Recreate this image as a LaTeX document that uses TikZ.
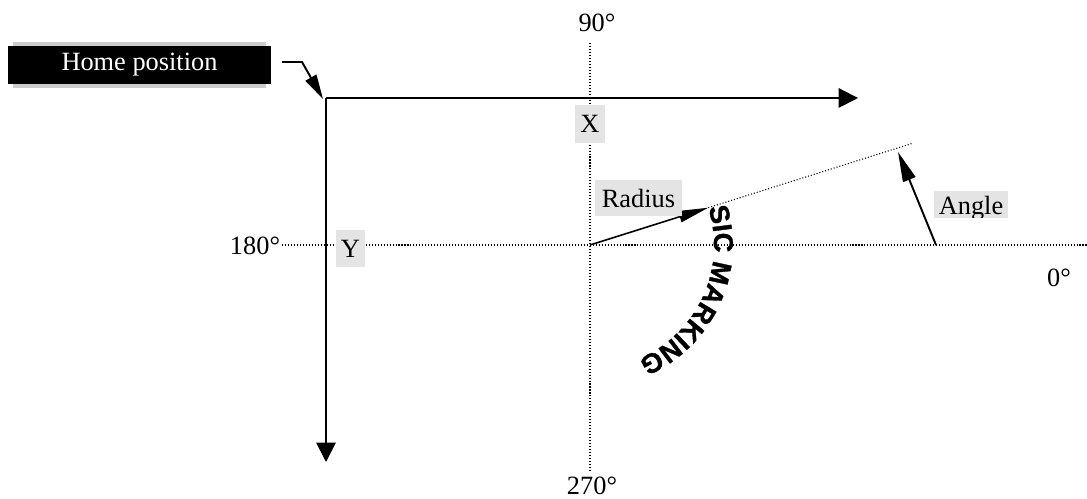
\documentclass[tikz,border=0pt]{standalone}
\usepackage{fontspec}
\setmainfont{Liberation Serif}
\newfontfamily\sicfont[BoldFeatures={FakeBold=1.2}]{Liberation Sans}
\usepackage{tikz}
\usetikzlibrary{arrows.meta, positioning, calc, decorations.text}
\definecolor{labelgray}{RGB}{228, 228, 228}
\definecolor{shadowgray}{RGB}{204, 204, 204}

\tikzset{
  axisline/.style={line width=1.1pt, -{Triangle[length=11pt, width=11pt]}},
  guideline/.style={line width=0.6pt, dash pattern=on 0.6pt off 1.1pt},
  graylabel/.style={fill=labelgray, inner sep=0pt, font=\fontsize{15}{18}\selectfont},
  deglabel/.style={anchor=base, inner sep=0pt, font=\fontsize{15}{18}\selectfont}
}

\begin{document}
\begin{tikzpicture}[x=0.02cm, y=0.02cm]
  \useasboundingbox (0,0) rectangle (1087,499);

  % ---- Reference points ----
  \coordinate (home0) at (326,401);
  \coordinate (centre) at (590,254);
  \coordinate (homeptr) at (282,437);
  \coordinate (radtip) at ($(centre)+(17.5:124)$);
  \coordinate (radend) at ($(centre)+(17.5:338)$);
  \coordinate (angbase) at (936,254);
  \coordinate (angtip) at (898,347);

  % ---- Dotted guide axes ----
  \draw[guideline] (282,254) -- (1087,254);
  \draw[guideline] (590,456) -- (590,26);
  \draw[guideline] (radtip) -- (radend);

  % ---- Home position ----
  \fill[shadowgray] (13,411) rectangle (266,457);
  \node[fill=black, text=white, minimum width=5.26cm, minimum height=0.76cm,
        inner sep=0pt, font=\fontsize{15}{18}\selectfont] (home) at (139.5,434) {Home position};
  \draw[line width=1.1pt, -{Triangle[length=14pt, width=7pt]}]
    (homeptr) -- ++(20,0) -- (323,400);

  % ---- X and Y axes ----
  \draw[axisline] (home0) -- (858,401) coordinate (xend);
  \draw[axisline] (home0) -- (326,37) coordinate (yend);
  \node[graylabel, minimum width=0.6cm, minimum height=0.76cm] (xlbl) at (590,375) {X};
  \node[graylabel, minimum width=0.58cm, minimum height=0.74cm] (ylbl) at (350.5,250.5) {Y};

  % ---- Radius and angle ----
  \draw[line width=0.9pt, -{Triangle[length=17pt, width=6.5pt]}] (centre) -- (radtip);
  \draw[line width=1.1pt, -{Triangle[length=17pt, width=7.5pt]}] (angbase) -- (angtip);
  \node[graylabel, minimum width=1.74cm, minimum height=0.72cm] (radlbl) at (638.5,301) {Radius};
  \fill[labelgray] (934,281) rectangle (1008,308);
  \begin{scope}
    \clip (934,281) rectangle (1008,308);
    \node[deglabel] (anglbl) at (971,284) {Angle};
  \end{scope}

  % ---- Marking along the arc ----
  \path[decorate, decoration={text along path,
      text={|\sicfont\bfseries\fontsize{15.5}{16}\selectfont|SIC MARKING}}]
    (radtip) arc[start angle=17.5, end angle=-85, radius=2.48cm];

  % ---- Degree labels ----
  \node[deglabel] (deg90) at (597,467) {90°};
  \node[deglabel] (deg180) at (255,244) {180°};
  \node[deglabel] (deg270) at (592,4) {270°};
  \node[deglabel] (deg0) at (1059,212) {0°};
\end{tikzpicture}
\end{document}
